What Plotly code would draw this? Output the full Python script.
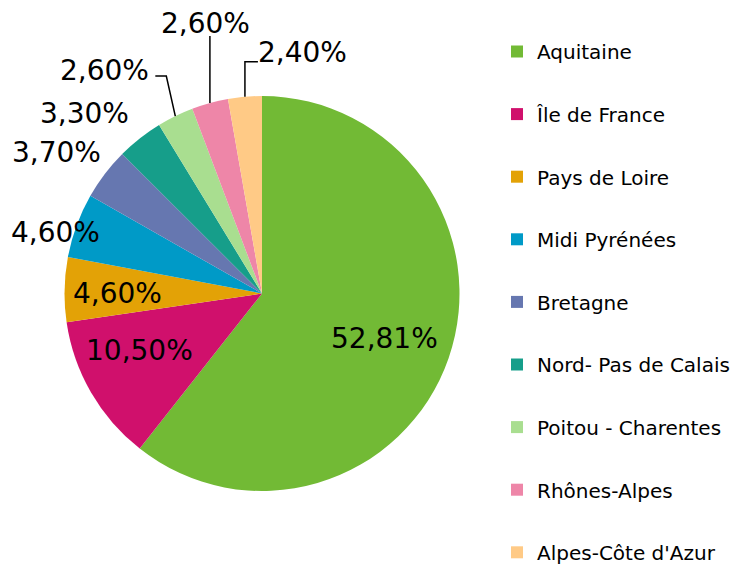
import numpy as np
import plotly.graph_objects as go

regions = ["Aquitaine", "Île de France", "Pays de Loire", "Midi Pyrénées", "Bretagne",
           "Nord- Pas de Calais", "Poitou - Charentes", "Rhônes-Alpes", "Alpes-Côte d'Azur"]
shares = [52.81, 10.50, 4.60, 4.60, 3.70, 3.30, 2.60, 2.60, 2.40]
colors = ["#72BA35", "#D0106C", "#E3A206", "#009AC7", "#6677B0",
          "#169E8A", "#A9DE90", "#EE86A8", "#FFCA86"]

labels_txt = [f"{v:.2f}".replace(".", ",") + "%" for v in shares]

# label text centre, in px from each slice's outer edge midpoint
label_off = [(-64, -20), (48, -42), (53, 4), (-21, 7), (-48, -21),
             (-55, -25), (-71, -46), (-4, -79), (58, -44)]
# leader line vertices (px from the edge midpoint), elbow style like the original
leader = [None, None, None, None, None, None,
          [(-9, -40), (-20, -40)], [(0, -67)], [(0, -35), (13, -35)]]

# the page body has an 8px margin; width shrinks to fit, height runs past the
# window bottom (only empty white space gets cut) so the tall legend can sit lower
W, H = 733, 564
FONT = "DejaVu Sans, Verdana, sans-serif"
dom_x = [56 / W, 452 / W]
dom_y = [(H - 483) / H, (H - 88) / H]

fig = go.Figure()
fig.add_trace(go.Pie(
    labels=regions, values=shares, text=labels_txt, textinfo="none",
    sort=False, direction="clockwise", rotation=0,
    marker=dict(colors=colors, line=dict(width=0)),
    showlegend=False, hoverinfo="label+text", automargin=False,
    domain=dict(x=dom_x, y=dom_y),
))

# slice edge midpoints from the shares
cx = (dom_x[0] + dom_x[1]) / 2 * W
cy = H - (dom_y[0] + dom_y[1]) / 2 * H
rad = min((dom_x[1] - dom_x[0]) * W, (dom_y[1] - dom_y[0]) * H) / 2
frac = np.array(shares) / sum(shares)
mid = (np.cumsum(frac) - frac / 2) * 2 * np.pi

def to_paper(x, y):
    return x / W, 1 - y / H

for i in range(len(shares)):
    px = cx + rad * np.sin(mid[i])
    py = cy - rad * np.cos(mid[i])
    dx, dy = label_off[i]
    tx, ty = to_paper(px + dx, py + dy)
    fig.add_annotation(x=tx, y=ty, xref="paper", yref="paper", showarrow=False,
                       xanchor="center", yanchor="middle", text=labels_txt[i],
                       font=dict(family=FONT, size=28, color="black"))
    if leader[i]:
        pts = [to_paper(px, py)] + [to_paper(px + ox, py + oy) for ox, oy in leader[i]]
        path = "M " + " L ".join(f"{a:.5f},{b:.5f}" for a, b in pts)
        fig.add_shape(type="path", path=path, xref="paper", yref="paper",
                      line=dict(color="black", width=1.5))

# legend entries drawn as dummy markers so the spacing can be opened up
for i, (name, c) in enumerate(zip(regions, colors)):
    fig.add_trace(go.Scatter(
        x=[None], y=[None], mode="markers", name=name,
        marker=dict(symbol="square", size=13, color=c),
        legendgroup=f"g{i}", showlegend=True,
    ))

fig.update_layout(
    width=W, height=H,
    margin=dict(l=0, r=0, t=0, b=0),
    paper_bgcolor="white", plot_bgcolor="white",
    xaxis=dict(visible=False), yaxis=dict(visible=False),
    legend=dict(
        x=489 / W, y=1 - 53 / H, xanchor="left", yanchor="top",
        font=dict(family=FONT, size=20, color="black"),
        tracegroupgap=33.6, itemsizing="constant",
        bgcolor="rgba(0,0,0,0)",
    ),
    font=dict(family=FONT),
)

fig.write_html("out.html")
